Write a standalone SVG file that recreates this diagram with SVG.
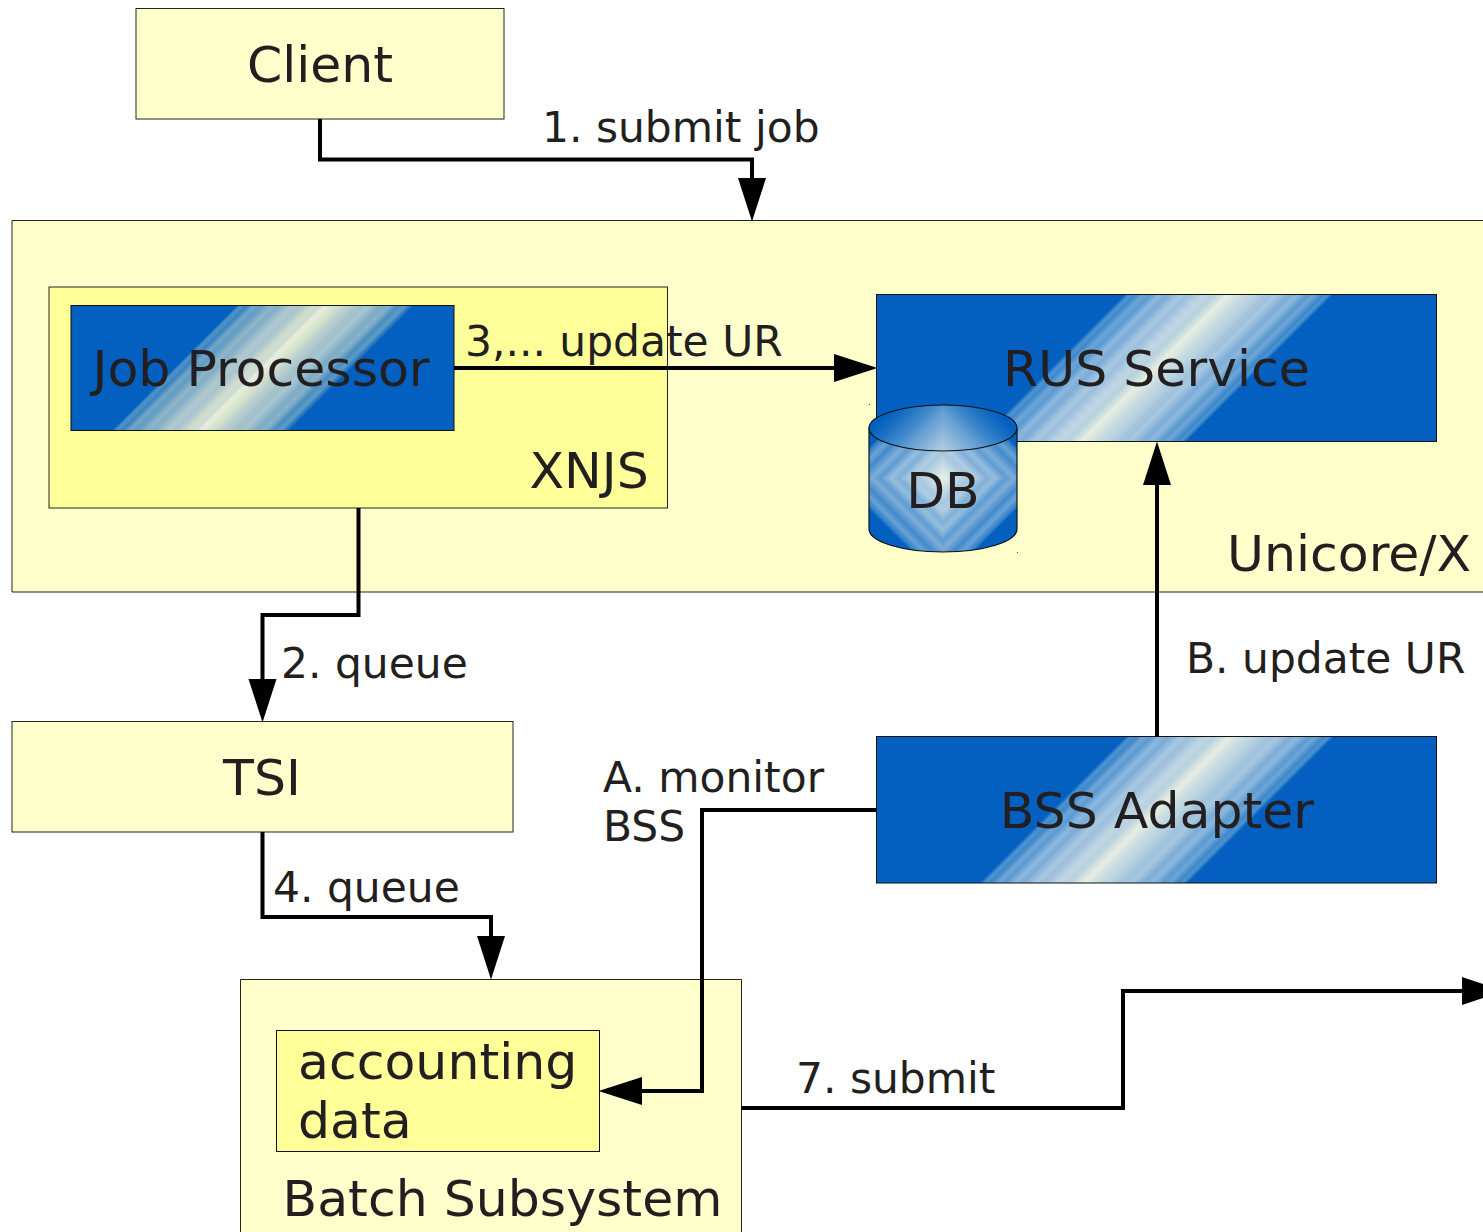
<svg xmlns="http://www.w3.org/2000/svg" xmlns:xlink="http://www.w3.org/1999/xlink" width="1483" height="1232" viewBox="0 0 1483 1232">
<style>
text{font-family:"DejaVu Sans",sans-serif;fill:#231f20}
.big{font-size:50.500px}
.lab{font-size:42.400px}
.mid{text-anchor:middle}
.box{stroke:#222;stroke-width:1}
.pale{fill:#ffffcc}
.yel{fill:#ffff99}
.con{fill:none;stroke:#000;stroke-width:4;marker-end:url(#arrow)}
</style>
<defs>
<marker id="arrow" markerUnits="userSpaceOnUse" markerWidth="44" markerHeight="28" refX="0" refY="14" orient="auto" overflow="visible">
<path d="M0 0L43.500 14L0 28Z" fill="#000"/>
</marker>
<linearGradient id="band">
<stop offset="0" stop-color="#0360c0"/><stop offset=".025" stop-color="#4f93cf"/><stop offset=".055" stop-color="#3d88cb"/><stop offset=".09" stop-color="#6fa6d6"/><stop offset=".125" stop-color="#5a9ad1"/><stop offset=".17" stop-color="#8db8dc"/><stop offset=".21" stop-color="#7babd8"/><stop offset=".27" stop-color="#a9c8e0"/><stop offset=".31" stop-color="#9bbfdd"/><stop offset=".38" stop-color="#c0d7e2"/><stop offset=".43" stop-color="#b8d1e0"/><stop offset=".5" stop-color="#e6eedf"/><stop offset=".57" stop-color="#c8dbe2"/><stop offset=".62" stop-color="#bad3e0"/><stop offset=".69" stop-color="#a0c2de"/><stop offset=".73" stop-color="#a9c8e0"/><stop offset=".79" stop-color="#7dadd9"/><stop offset=".83" stop-color="#8db8dc"/><stop offset=".88" stop-color="#5a9ad1"/><stop offset=".91" stop-color="#6fa6d6"/><stop offset=".95" stop-color="#3d88cb"/><stop offset=".975" stop-color="#4f93cf"/><stop offset="1" stop-color="#0360c0"/>
</linearGradient>
<linearGradient id="bandJob">
<stop offset="0" stop-color="#0360c0"/><stop offset=".025" stop-color="#5596c4"/><stop offset=".06" stop-color="#3682c2"/><stop offset=".1" stop-color="#74a6c4"/><stop offset=".14" stop-color="#5f9bc6"/><stop offset=".2" stop-color="#8fb6c6"/><stop offset=".24" stop-color="#83aec8"/><stop offset=".31" stop-color="#afcacc"/><stop offset=".36" stop-color="#a8c4d0"/><stop offset=".43" stop-color="#d0deca"/><stop offset=".47" stop-color="#cddad6"/><stop offset=".5" stop-color="#e7eedc"/><stop offset=".56" stop-color="#d6e2ca"/><stop offset=".63" stop-color="#b9cfd2"/><stop offset=".7" stop-color="#a0c1c8"/><stop offset=".75" stop-color="#a8c6d2"/><stop offset=".81" stop-color="#7eacc4"/><stop offset=".86" stop-color="#86b0c8"/><stop offset=".91" stop-color="#4a8ec0"/><stop offset=".95" stop-color="#5f9bc4"/><stop offset="1" stop-color="#0360c0"/>
</linearGradient>
<linearGradient id="gRus" href="#band" gradientUnits="userSpaceOnUse" x1="1125" y1="294" x2="1229.500" y2="398.500"/>
<linearGradient id="gBss" href="#band" gradientUnits="userSpaceOnUse" x1="1125" y1="737" x2="1229.500" y2="841.500"/>
<linearGradient id="gJob" href="#bandJob" gradientUnits="userSpaceOnUse" x1="237" y1="305" x2="326" y2="394"/>
<linearGradient id="gDia" gradientUnits="userSpaceOnUse" x1="0" y1="0" x2="52.500" y2="52.500">
<stop offset="0" stop-color="#e8f0e4"/><stop offset=".14" stop-color="#c4dae4"/><stop offset=".24" stop-color="#a8c8e0"/><stop offset=".32" stop-color="#b0cce2"/><stop offset=".42" stop-color="#7fb0d9"/><stop offset=".5" stop-color="#95bddc"/><stop offset=".6" stop-color="#5f9cd2"/><stop offset=".68" stop-color="#7cadd7"/><stop offset=".8" stop-color="#4389cc"/><stop offset=".88" stop-color="#6aa3d4"/><stop offset=".97" stop-color="#2f7ec8"/><stop offset="1" stop-color="#0360c0"/>
</linearGradient>
<linearGradient id="gDiaTop" gradientUnits="userSpaceOnUse" x1="0" y1="0" x2="46" y2="46">
<stop offset="0" stop-color="#b4cee0"/><stop offset=".2" stop-color="#8fb8da"/><stop offset=".4" stop-color="#6aa2d4"/><stop offset=".6" stop-color="#4089cb"/><stop offset=".8" stop-color="#1f72c4"/><stop offset="1" stop-color="#0360c0"/>
</linearGradient>
<path id="q" d="M0 0H110V110H0Z" fill="url(#gDia)"/>
<path id="qT" d="M0 0H110V110H0Z" fill="url(#gDiaTop)"/>
<clipPath id="bodyClip"><path d="M869 428V529A74 23 0 0 0 1017 529V428Z"/></clipPath>
<clipPath id="topClip"><ellipse cx="943" cy="428" rx="74" ry="23"/></clipPath>
</defs>

<g id="client">
<rect class="box pale" x="136" y="8.500" width="368" height="110.500"/>
<text class="big mid" x="320" y="82">Client</text>
</g>

<g id="unicorex">
<rect class="pale" x="12" y="220.500" width="1471" height="371.500"/>
<path class="box" fill="none" d="M1483 220.500H12V592H1483"/>
<text class="big" x="1227" y="570.500">Unicore/X</text>
</g>

<g id="xnjs">
<rect class="box yel" x="49" y="287" width="618.500" height="221"/>
<text class="big" x="529.500" y="487.500">XNJS</text>
</g>

<g id="job-processor">
<rect x="71" y="305.500" width="383" height="125" fill="url(#gJob)" stroke="#111" stroke-width="1"/>
<text class="big" x="92.500" y="385.500">Job Processor</text>
</g>

<g id="rus-service">
<rect x="876.500" y="294.500" width="560" height="147" fill="url(#gRus)" stroke="#111" stroke-width="1"/>
<text class="big mid" x="1156.500" y="385.500">RUS Service</text>
</g>

<g id="db">
<rect x="869" y="404" width="1" height="1" fill="#333"/>
<rect x="1017" y="552" width="1" height="1" fill="#555"/>
<path d="M869 428V529A74 23 0 0 0 1017 529V428Z" fill="#0360c0"/>
<g clip-path="url(#bodyClip)">
<use href="#q" transform="translate(943 478)"/>
<use href="#q" transform="translate(943 478) scale(-1 1)"/>
<use href="#q" transform="translate(943 478) scale(1 -1)"/>
<use href="#q" transform="translate(943 478) scale(-1 -1)"/>
</g>
<path d="M869 428V529A74 23 0 0 0 1017 529V428" fill="none" stroke="#111" stroke-width="1.200"/>
<ellipse cx="943" cy="428" rx="74" ry="23" fill="#0360c0"/>
<g clip-path="url(#topClip)">
<use href="#qT" transform="translate(943 451) scale(1 -1)"/>
<use href="#qT" transform="translate(943 451) scale(-1 -1)"/>
</g>
<ellipse cx="943" cy="428" rx="74" ry="23" fill="none" stroke="#111" stroke-width="1.200"/>
<text class="big mid" x="943" y="507.500">DB</text>
</g>

<g id="tsi">
<rect class="box pale" x="12" y="721.500" width="501" height="110.500"/>
<text class="big mid" x="262" y="794.500">TSI</text>
</g>

<g id="bss-adapter">
<rect x="876.500" y="736.500" width="560" height="146.500" fill="url(#gBss)" stroke="#111" stroke-width="1"/>
<text class="big mid" x="1157" y="827.500">BSS Adapter</text>
</g>

<g id="batch-subsystem">
<rect class="pale" x="240.500" y="979.500" width="501" height="252.500"/>
<path class="box" fill="none" d="M240.500 1232V979.500H741.500V1232"/>
<text class="big" x="282.500" y="1215.500">Batch Subsystem</text>
</g>

<g id="accounting-data">
<rect x="276.500" y="1030.500" width="323" height="121" class="yel" stroke="#111" stroke-width="1"/>
<text class="big" x="298" y="1078.500">accounting</text>
<text class="big" x="298" y="1137.500">data</text>
</g>

<g id="connectors">
<path class="con" d="M320 119V159.500H752V178"/>
<path class="con" d="M358.500 508V615H262.500V679"/>
<path class="con" d="M454 368H834"/>
<path class="con" d="M262.500 832V917H491V936"/>
<path class="con" d="M1157 737V485"/>
<path class="con" d="M876 810H702V1091H642"/>
<path d="M741 1108H1123V991H1462" fill="none" stroke="#000" stroke-width="4"/>
<path d="M1462 977L1483 984V998L1462 1005Z" fill="#000"/>
</g>

<g id="labels">
<text class="lab" x="542" y="142">1. submit job</text>
<text class="lab" x="465" y="356">3,... update UR</text>
<text class="lab" x="281" y="678">2. queue</text>
<text class="lab" x="1186" y="673">B. update UR</text>
<text class="lab" x="603" y="792">A. monitor</text>
<text class="lab" x="603" y="841">BSS</text>
<text class="lab" x="273" y="902">4. queue</text>
<text class="lab" x="796" y="1093">7. submit</text>
</g>
</svg>
